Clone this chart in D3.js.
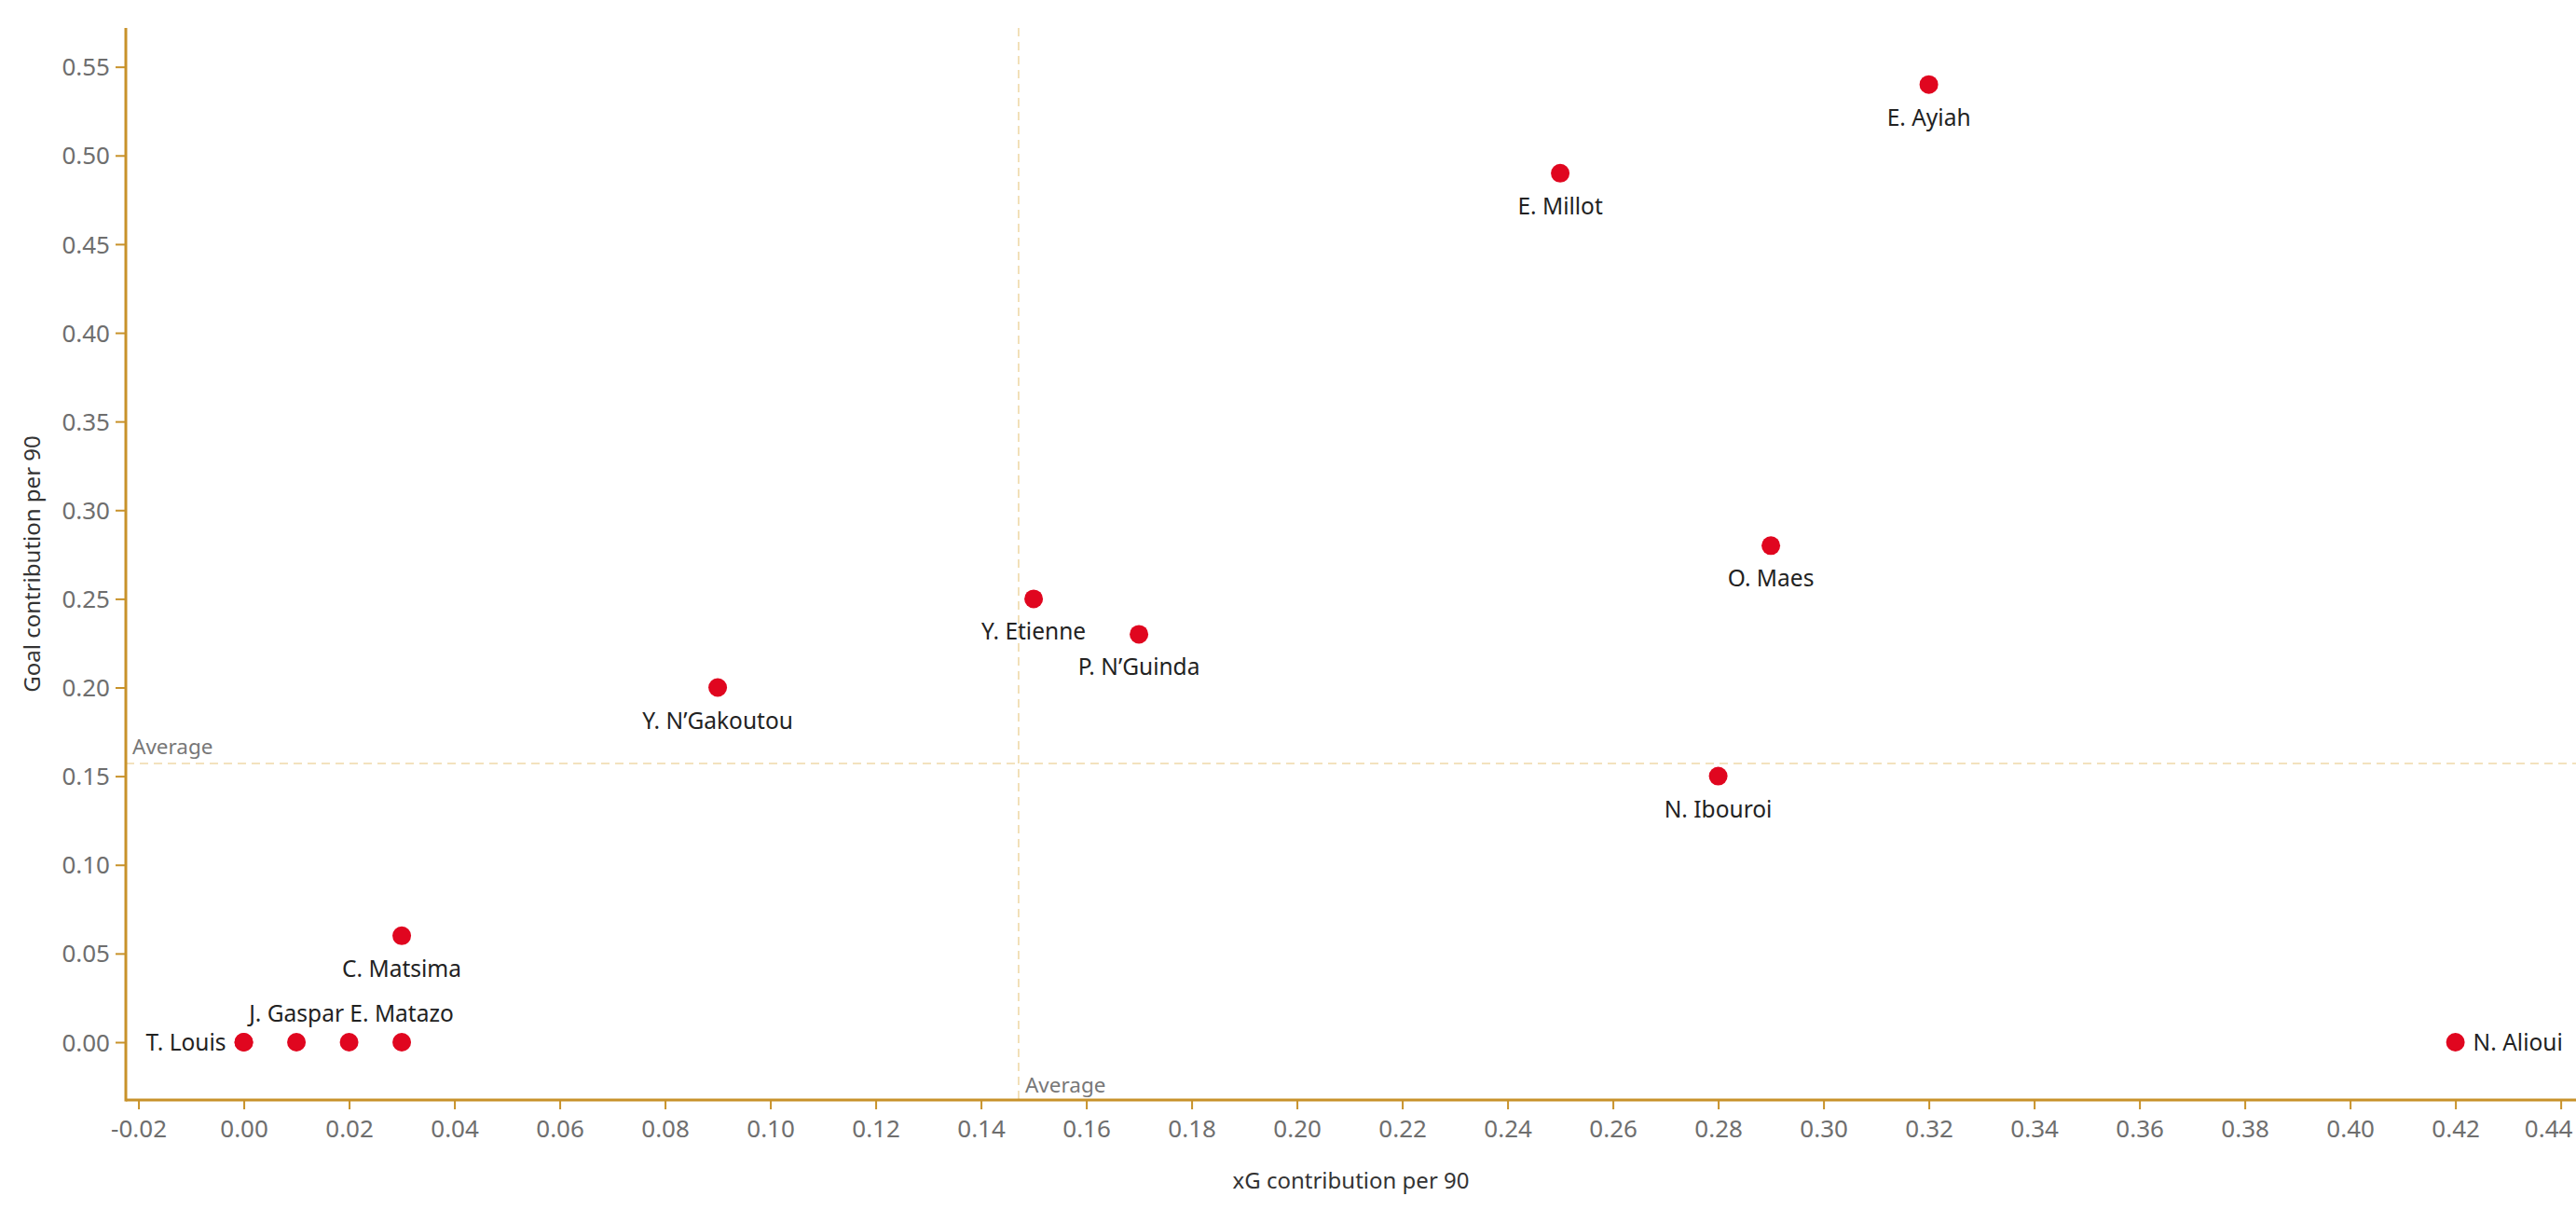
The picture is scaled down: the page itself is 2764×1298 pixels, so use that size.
<!DOCTYPE html>
<html>
<head>
<meta charset="utf-8">
<script src="https://cdn.jsdelivr.net/npm/d3@7"></script>
<style>
  html, body { margin: 0; padding: 0; background: #fff; }
  svg { display: block; }
  text { font-family: "Noto Sans", sans-serif; }
</style>
</head>
<body>
<svg id="chart" width="2764" height="1298"></svg>
<script>
// ---- Data ----
const players = ["T. Louis", "", "J. Gaspar", "", "E. Matazo", "C. Matsima", "Y. N\u2019Gakoutou",
                 "Y. Etienne", "P. N\u2019Guinda", "E. Millot", "E. Ayiah", "O. Maes", "N. Ibouroi", "N. Alioui"];
const xgContribution = [0.00, 0.00, 0.01, 0.02, 0.03, 0.03, 0.09, 0.15, 0.17, 0.25, 0.32, 0.29, 0.28, 0.42];
const goalContribution = [0.00, 0.00, 0.00, 0.00, 0.00, 0.06, 0.20, 0.25, 0.23, 0.49, 0.54, 0.28, 0.15, 0.00];
const labelSide = ["left", "none", "above", "none", "above", "below", "below",
                   "below", "below", "below", "below", "below", "below", "right"];
const xTicks = [-0.02, 0.00, 0.02, 0.04, 0.06, 0.08, 0.10, 0.12, 0.14, 0.16, 0.18, 0.20, 0.22,
                0.24, 0.26, 0.28, 0.30, 0.32, 0.34, 0.36, 0.38, 0.40, 0.42, 0.44];
const yTicks = [0.00, 0.05, 0.10, 0.15, 0.20, 0.25, 0.30, 0.35, 0.40, 0.45, 0.50, 0.55];
const xTitle = "xG contribution per 90";
const yTitle = "Goal contribution per 90";
const avgLabel = "Average";

(function () {
const data = players.map((p, i) => ({
  name: p, x: xgContribution[i], y: goalContribution[i], side: labelSide[i]
}));

// ---- Layout ----
const svg = d3.select("#chart");
const W = 2764;
const mLeft = 135, mRight = 2764, mTop = 30, mBottom = 1180;
const axisColor = "#c8922a";
const dotColor = "#e0061f";
const avgColor = "#efd9a9";

const x = d3.scaleLinear().domain([-0.0224, 0.4429]).range([mLeft, mRight]);
const y = d3.scaleLinear().domain([-0.0326, 0.5719]).range([mBottom, mTop]);

const fmt = d => d.toFixed(2);

// Average lines
const xAvg = d3.mean(data, d => d.x);
const yAvg = d3.mean(data, d => d.y);

svg.append("line")
  .attr("x1", x(xAvg)).attr("x2", x(xAvg))
  .attr("y1", mTop).attr("y2", mBottom)
  .attr("stroke", avgColor).attr("stroke-width", 1.6)
  .attr("stroke-dasharray", "9,6");
svg.append("line")
  .attr("x1", mLeft).attr("x2", mRight)
  .attr("y1", y(yAvg)).attr("y2", y(yAvg))
  .attr("stroke", avgColor).attr("stroke-width", 1.6)
  .attr("stroke-dasharray", "9,6");

svg.append("text")
  .attr("x", x(xAvg) + 7).attr("y", mBottom - 8)
  .attr("font-size", 22.5).attr("fill", "#777")
  .text(avgLabel);
svg.append("text")
  .attr("x", mLeft + 7).attr("y", y(yAvg) - 10)
  .attr("font-size", 22.5).attr("fill", "#777")
  .text(avgLabel);

// Axes
const xAxis = d3.axisBottom(x).tickValues(xTicks).tickFormat(fmt).tickSize(10).tickPadding(12);
const yAxis = d3.axisLeft(y).tickValues(yTicks).tickFormat(fmt).tickSize(11).tickPadding(6);

const gx = svg.append("g").attr("transform", `translate(0,${mBottom})`).call(xAxis);
const gy = svg.append("g").attr("transform", `translate(${mLeft},0)`).call(yAxis);

[gx, gy].forEach(g => {
  g.select(".domain").remove();
  g.selectAll(".tick line").attr("stroke", axisColor).attr("stroke-width", 2);
  g.selectAll(".tick text").attr("fill", "#6e6e6e").attr("font-size", 26)
    .attr("font-family", "\"Noto Sans\", sans-serif");
});
gy.selectAll(".tick text").attr("dy", "0.35em");

// keep the last x tick label inside the picture
gx.selectAll(".tick").each(function (d) {
  const t = d3.select(this).select("text");
  const bb = t.node().getBBox();
  const absRight = x(d) + bb.x + bb.width;
  if (absRight > W - 4) t.attr("dx", (W - 4 - absRight) + "px");
});

// Axis lines
svg.append("line").attr("x1", mLeft).attr("x2", mRight).attr("y1", mBottom).attr("y2", mBottom)
  .attr("stroke", axisColor).attr("stroke-width", 3);
svg.append("line").attr("x1", mLeft).attr("x2", mLeft).attr("y1", mTop).attr("y2", mBottom + 1.5)
  .attr("stroke", axisColor).attr("stroke-width", 3);

// Axis titles
svg.append("text")
  .attr("x", (mLeft + mRight) / 2).attr("y", 1275)
  .attr("text-anchor", "middle").attr("font-size", 24).attr("fill", "#333")
  .text(xTitle);
svg.append("text")
  .attr("transform", `translate(43,${(mTop + mBottom) / 2}) rotate(-90)`)
  .attr("text-anchor", "middle").attr("font-size", 24).attr("fill", "#333")
  .text(yTitle);

// Points
svg.append("g").selectAll("circle").data(data).join("circle")
  .attr("cx", d => x(d.x)).attr("cy", d => y(d.y)).attr("r", 10)
  .attr("fill", dotColor);

// Labels
svg.append("g").selectAll("text").data(data.filter(d => d.side !== "none")).join("text")
  .attr("font-size", 24.5).attr("fill", "#222")
  .attr("x", d => d.side === "left" ? x(d.x) - 19 : d.side === "right" ? x(d.x) + 19 : x(d.x))
  .attr("y", d => d.side === "below" ? y(d.y) + 44 : d.side === "above" ? y(d.y) - 22 : y(d.y) + 9)
  .attr("text-anchor", d => d.side === "left" ? "end" : d.side === "right" ? "start" : "middle")
  .text(d => d.name);
})();
</script>
</body>
</html>
